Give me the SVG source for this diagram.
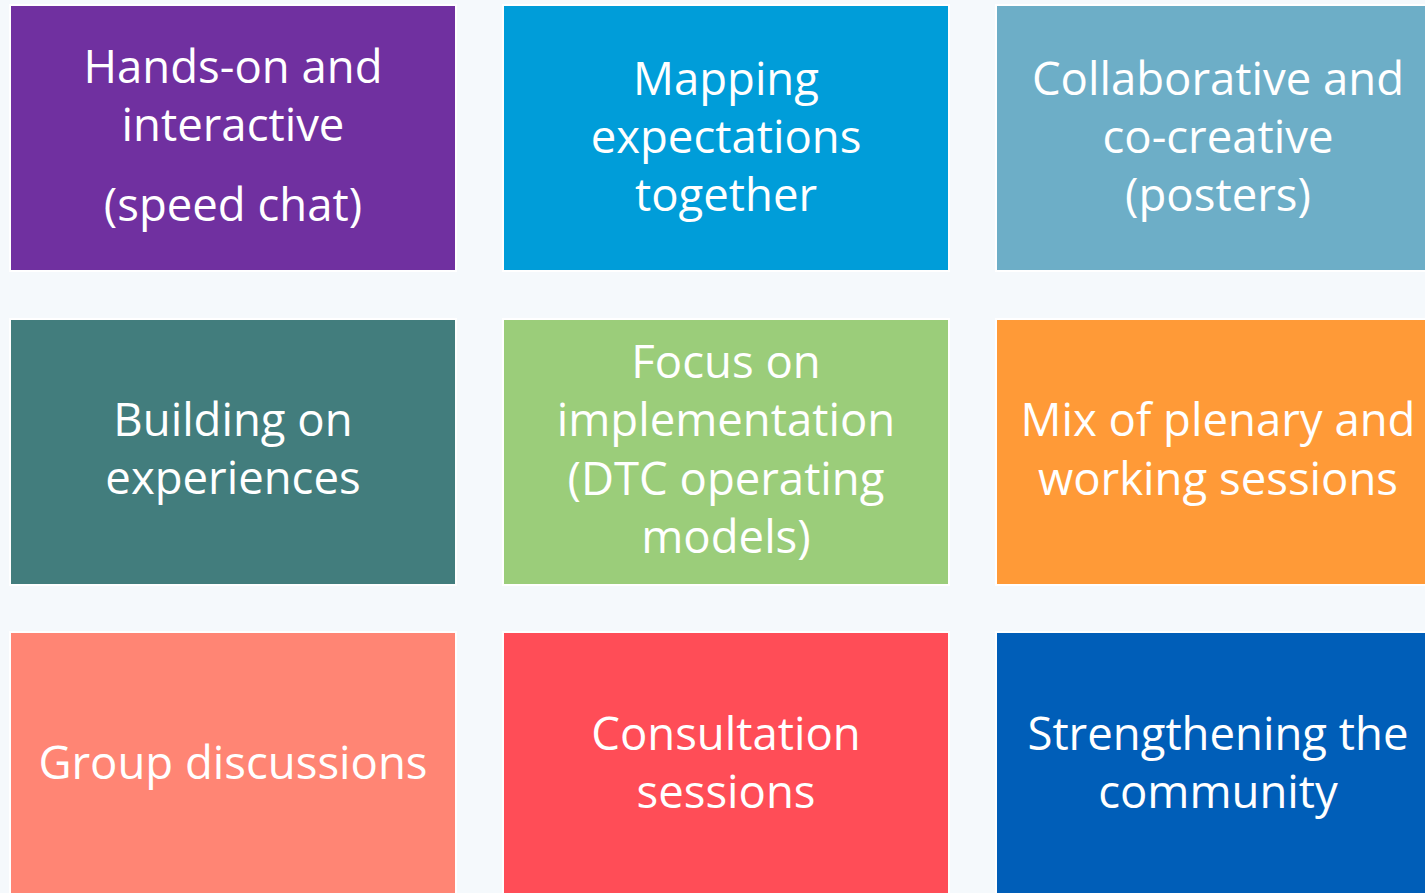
<svg xmlns="http://www.w3.org/2000/svg" width="1425" height="893" viewBox="0 0 1425 893">
  <style>
    .box { stroke: #ffffff; stroke-width: 2; }
    .lbl { font-family: "Open Sans", "Noto Sans", "Liberation Sans", sans-serif; font-size: 45.5px; fill: #ffffff; text-anchor: middle; }
  </style>
  <rect x="0" y="0" width="1425" height="893" fill="#f5f9fc"/>

  <g id="n1">
    <rect class="box" x="10" y="5" width="446" height="266" fill="#7030a0"/>
    <text class="lbl" x="233" y="83">Hands-on and</text>
    <text class="lbl" x="233" y="141">interactive</text>
    <text class="lbl" x="233" y="221">(speed chat)</text>
  </g>
  <g id="n2">
    <rect class="box" x="503" y="5" width="446" height="266" fill="#009dd9"/>
    <text class="lbl" x="726" y="95">Mapping</text>
    <text class="lbl" x="726" y="153">expectations</text>
    <text class="lbl" x="726" y="211">together</text>
  </g>
  <g id="n3">
    <rect class="box" x="996" y="5" width="446" height="266" fill="#6daec7"/>
    <text class="lbl" x="1218" y="95">Collaborative and</text>
    <text class="lbl" x="1218" y="153">co-creative</text>
    <text class="lbl" x="1218" y="211">(posters)</text>
  </g>

  <g id="n4">
    <rect class="box" x="10" y="319" width="446" height="266" fill="#427d7d"/>
    <text class="lbl" x="233" y="436">Building on</text>
    <text class="lbl" x="233" y="494">experiences</text>
  </g>
  <g id="n5">
    <rect class="box" x="503" y="319" width="446" height="266" fill="#9bcd7a"/>
    <text class="lbl" x="726" y="378">Focus on</text>
    <text class="lbl" x="726" y="436">implementation</text>
    <text class="lbl" x="726" y="495">(DTC operating</text>
    <text class="lbl" x="726" y="553">models)</text>
  </g>
  <g id="n6">
    <rect class="box" x="996" y="319" width="446" height="266" fill="#ff9a37"/>
    <text class="lbl" x="1218" y="436">Mix of plenary and</text>
    <text class="lbl" x="1218" y="495">working sessions</text>
  </g>

  <g id="n7">
    <rect class="box" x="10" y="632" width="446" height="270" fill="#ff8574"/>
    <text class="lbl" x="233" y="779">Group discussions</text>
  </g>
  <g id="n8">
    <rect class="box" x="503" y="632" width="446" height="270" fill="#ff4d57"/>
    <text class="lbl" x="726" y="750">Consultation</text>
    <text class="lbl" x="726" y="808">sessions</text>
  </g>
  <g id="n9">
    <rect class="box" x="996" y="632" width="446" height="270" fill="#005eb8"/>
    <text class="lbl" x="1218" y="750">Strengthening the</text>
    <text class="lbl" x="1218" y="808">community</text>
  </g>

  <g id="connectors"/>
</svg>
